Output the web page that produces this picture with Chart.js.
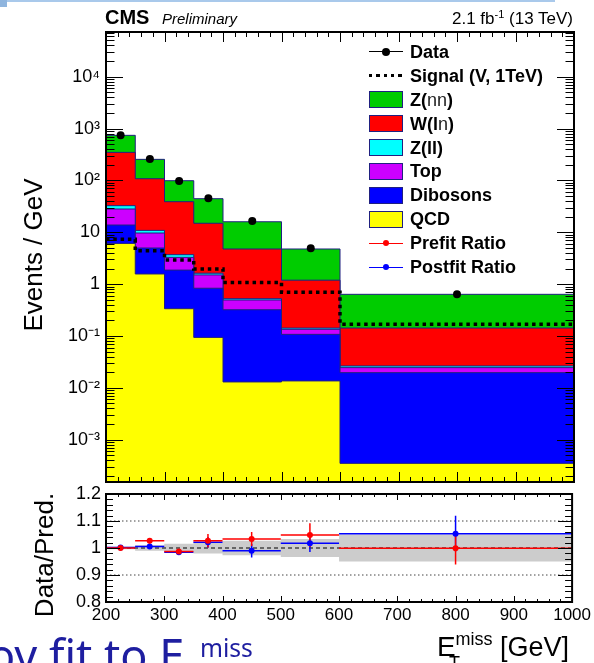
<!DOCTYPE html>
<html>
<head>
<meta charset="utf-8">
<title>MET spectrum</title>
<script src="https://cdn.jsdelivr.net/npm/chart.js@4.4.1/dist/chart.umd.min.js"></script>
<style>
  html, body { margin: 0; padding: 0; background: #fff; }
  body { position: relative; width: 594px; height: 663px; overflow: hidden;
         font-family: "Liberation Sans", Arial, Helvetica, sans-serif; color: #000; }
  canvas { position: absolute; left: 0; top: 0; }
  .t { position: absolute; white-space: nowrap; line-height: 1; }
  .rot { transform: translate(-50%, -50%) rotate(-90deg); }
  .row { position: absolute; left: 369px; width: 220px; height: 24px; }
  .mk { position: absolute; left: 0; top: 0; width: 34px; height: 24px; }
  .lab { position: absolute; left: 41px; top: 3px; font-weight: bold; font-size: 18px; line-height: 18px; white-space: nowrap; }
  .lab .n { font-weight: normal; color: #222; }
  .box { position: absolute; left: 0; top: 3.5px; width: 32px; height: 15px; border: 1px solid #202080; }
  .ln { position: absolute; left: 0; top: 11.5px; width: 34px; height: 1px; }
  .dot { position: absolute; border-radius: 50%; }
</style>
</head>
<body>
<div style="position:absolute;left:0;top:0;width:555px;height:2px;background:#a9c9eb"></div>
<div style="position:absolute;left:0;top:0;width:7px;height:7px;background:#8fb5de"></div>

<canvas id="mainChart" width="594" height="663"></canvas>
<canvas id="ratioChart" width="594" height="663"></canvas>

<div class="t" style="left:105px;top:7px;font-size:20px;font-weight:bold">CMS</div>
<div class="t" style="left:162px;top:11.3px;font-size:15px;font-style:italic">Preliminary</div>
<div class="t" style="right:21px;top:9.6px;font-size:17px">2.1 fb<span style="font-size:11px;position:relative;top:-6px">-1</span> (13 TeV)</div>

<div class="t rot" style="left:33px;top:255px;font-size:26px">Events / GeV</div>
<div class="t rot" style="left:44px;top:555px;font-size:26px">Data/Pred.</div>

<div class="t" style="left:437px;top:633.3px;font-size:28px">E</div>
<div class="t" style="left:449px;top:653.8px;font-size:18px">T</div>
<div class="t" style="left:455.5px;top:629.8px;font-size:18px">miss</div>
<div class="t" style="left:500px;top:634.1px;font-size:27px">[GeV]</div>

<div class="t" style="left:-12px;top:632px;font-size:45px;font-family:'Noto Sans',sans-serif;color:#1e1ea0">oy fit to E</div>
<div class="t" style="left:200px;top:636.2px;font-size:24.6px;font-family:'Noto Sans',sans-serif;color:#1e1ea0">miss</div>

<div id="legend"></div>

<script>
// bins in MET (GeV)
const binEdges = [200, 250, 300, 350, 400, 500, 600, 1000];
const binCenters = [225, 275, 325, 375, 450, 550, 800];

// background processes, events / GeV per bin
const qcdVals      = [6.1, 1.57, 0.336, 0.094, 0.013, 0.0136, 0.00035];
const dibosonVals  = [7.7, 3.41, 1.53, 0.74, 0.308, 0.094, 0.0193];
const topVals      = [14.3, 4.7, 1.42, 0.67, 0.173, 0.027, 0.0049];
const zllVals      = [4.5, 1.2, 0.41, 0.12, 0.03, 0.0076, 0.0019];
const wlnVals      = [315, 97, 35.2, 13.3, 4.24, 1.05, 0.116];
const znnVals      = [393, 147, 59.9, 29.5, 11.2, 3.57, 0.494];
const signalVals   = [7.3, 4.4, 2.92, 1.96, 1.07, 0.70, 0.168];
const dataVals     = [740, 258, 97, 45.3, 16.5, 4.9, 0.64];

// ratio panel
const prefitRatio  = [1.000, 1.027, 0.987, 1.027, 1.033, 1.048, 0.999];
const prefitErr    = [0.004, 0.01, 0.008, 0.025, 0.026, 0.044, 0.06];
const postfitRatio = [1.002, 1.006, 0.984, 1.021, 0.990, 1.018, 1.053];
const postfitErr   = [0.004, 0.008, 0.008, 0.02, 0.025, 0.033, 0.066];
const bandErr      = [0.005, 0.01, 0.016, 0.02, 0.027, 0.033, 0.05];
const refLevels    = [0.9, 1.0, 1.1];

// axes
const yMin = 1.53e-4, yMax = 7.28e4;
const yTickValues = [1e-3, 1e-2, 1e-1, 1, 10, 100, 1e3, 1e4];
const yTickLabels = ['10\u207B\u00B3', '10\u207B\u00B2', '10\u207B\u00B9', '1', '10', '10\u00B2', '10\u00B3', '10\u2074'];
const ratioTickValues = [0.8, 0.9, 1.0, 1.1, 1.2];
const ratioTickLabels = ['0.8', '0.9', '1', '1.1', '1.2'];
const xTickValues = [200, 300, 400, 500, 600, 700, 800, 900, 1000];
const xTickLabels = ['200', '300', '400', '500', '600', '700', '800', '900', '1000'];

const FONT = "'Liberation Sans', Arial, sans-serif";
const NAVY = '#202080';

function stepPoints(vals) {
  return binEdges.map((x, i) => ({x: x, y: vals[Math.min(i, vals.length - 1)]}));
}

function errPoints(vals, errs) {
  let pts = [];
  vals.forEach((v, i) => {
    pts.push({x: binEdges[i], y: v}, {x: binEdges[i + 1], y: v}, {x: binEdges[i + 1], y: null});
    pts.push({x: binCenters[i], y: v - errs[i]}, {x: binCenters[i], y: v + errs[i]}, {x: binCenters[i], y: null});
  });
  return pts;
}

function centerPoints(vals) {
  return binCenters.map((x, i) => ({x: x, y: vals[i]}));
}

// ROOT style frame with ticks pointing inward on all four sides
const rootFrame = {
  id: 'rootFrame',
  afterDatasetsDraw(chart, args, o) {
    const ctx = chart.ctx, a = chart.chartArea;
    const xs = chart.scales.x, ys = chart.scales.y;
    ctx.save();
    ctx.strokeStyle = '#000';
    ctx.lineWidth = 1;
    ctx.beginPath();
    let n = Math.round((xs.max - xs.min) / o.xMinor);
    for (let i = 0; i <= n; i++) {
      let v = xs.min + i * o.xMinor;
      let major = (i % o.xPer) === 0;
      let len = major ? o.xLen : o.xLen / 2;
      let px = Math.round(xs.getPixelForValue(v)) + 0.5;
      ctx.moveTo(px, a.bottom); ctx.lineTo(px, a.bottom - len);
      ctx.moveTo(px, a.top); ctx.lineTo(px, a.top + len);
    }
    let yt = [];
    if (o.log) {
      for (let d = Math.floor(Math.log10(ys.min)); d <= Math.ceil(Math.log10(ys.max)); d++) {
        for (let k = 1; k <= 9; k++) {
          let v = k * Math.pow(10, d);
          if (v >= ys.min && v <= ys.max) yt.push([v, k === 1]);
        }
      }
    } else {
      let m = Math.round((ys.max - ys.min) / o.yMinor);
      for (let i = 0; i <= m; i++) yt.push([ys.min + i * o.yMinor, i % o.yPer === 0]);
    }
    yt.forEach(([v, major]) => {
      let len = major ? o.yLen : o.yLen / 2;
      let py = Math.round(ys.getPixelForValue(v)) + 0.5;
      ctx.moveTo(a.left, py); ctx.lineTo(a.left + len, py);
      ctx.moveTo(a.right, py); ctx.lineTo(a.right - len, py);
    });
    ctx.stroke();
    ctx.lineWidth = 2;
    ctx.strokeRect(a.left, a.top, a.right - a.left, a.bottom - a.top);
    ctx.restore();
  }
};

function bkg(label, vals, color, order) {
  return {
    label: label, data: stepPoints(vals), stack: 'bkg', order: order,
    stepped: true, fill: 'start', backgroundColor: color,
    borderColor: NAVY, borderWidth: 1, pointRadius: 0
  };
}

new Chart(document.getElementById('mainChart'), {
  type: 'line',
  data: {
    datasets: [
      bkg('QCD', qcdVals, '#ffff00', 3),
      bkg('Dibosons', dibosonVals, '#0000ff', 4),
      bkg('Top', topVals, '#cc00ff', 5),
      bkg('Z(ll)', zllVals, '#00ffff', 6),
      bkg('W(ln)', wlnVals, '#ff0000', 7),
      bkg('Z(nn)', znnVals, '#00cc00', 8),
      {
        label: 'Signal (V, 1TeV)', data: stepPoints(signalVals), stack: 'sig', order: 1,
        stepped: true, fill: false, borderColor: '#000', borderWidth: 3.5,
        borderDash: [3.5, 3.8], pointRadius: 0
      },
      {
        label: 'Data', data: centerPoints(dataVals), stack: 'data', order: 0,
        showLine: false, pointRadius: 4, pointBackgroundColor: '#000', pointBorderWidth: 0
      }
    ]
  },
  options: {
    responsive: false, animation: false, events: [],
    layout: {padding: {left: 0, right: 20, top: 32, bottom: 181}},
    plugins: {
      legend: {display: false}, tooltip: {enabled: false},
      rootFrame: {xMinor: 20, xPer: 5, xLen: 10, log: true, yLen: 17}
    },
    scales: {
      x: {type: 'linear', min: 200, max: 1000, display: false},
      y: {
        type: 'logarithmic', min: yMin, max: yMax, stacked: true,
        afterFit: s => { s.width = 106; },
        afterBuildTicks: s => { s.ticks = yTickValues.map(v => ({value: v})); },
        grid: {display: false, drawTicks: false}, border: {display: false},
        ticks: {autoSkip: false, padding: 6, color: '#000', font: {family: FONT, size: 18},
                callback: (v, i) => yTickLabels[i]}
      }
    }
  },
  plugins: [rootFrame]
});

function band(sign) {
  return binEdges.map((x, i) => ({x: x, y: 1 + sign * bandErr[Math.min(i, bandErr.length - 1)]}));
}

function refLine(level, dash, color) {
  return {data: [{x: 200, y: level}, {x: 1000, y: level}], order: 6, fill: false,
          borderColor: color, borderWidth: 1, borderDash: dash, pointRadius: 0};
}

new Chart(document.getElementById('ratioChart'), {
  type: 'line',
  data: {
    datasets: [
      {data: band(1), stepped: true, fill: false, borderWidth: 0, pointRadius: 0, order: 10},
      {data: band(-1), stepped: true, fill: '-1', backgroundColor: '#cccccc', borderWidth: 0, pointRadius: 0, order: 10},
      refLine(refLevels[0], [1.5, 2.5], '#444'),
      refLine(refLevels[1], [4, 3], '#000'),
      refLine(refLevels[2], [1.5, 2.5], '#444'),
      {data: errPoints(postfitRatio, postfitErr), spanGaps: false, fill: false, borderColor: '#0000ff',
       borderWidth: 1.5, pointRadius: 0, order: 4},
      {data: errPoints(prefitRatio, prefitErr), spanGaps: false, fill: false, borderColor: '#ff0000',
       borderWidth: 1.5, pointRadius: 0, order: 3},
      {data: centerPoints(postfitRatio), showLine: false, pointRadius: 3, pointBackgroundColor: '#0000ff',
       pointBorderWidth: 0, order: 2},
      {data: centerPoints(prefitRatio), showLine: false, pointRadius: 3, pointBackgroundColor: '#ff0000',
       pointBorderWidth: 0, order: 1}
    ]
  },
  options: {
    responsive: false, animation: false, events: [],
    layout: {padding: {left: 0, right: 20, top: 494, bottom: 0}},
    plugins: {
      legend: {display: false}, tooltip: {enabled: false},
      rootFrame: {xMinor: 20, xPer: 5, xLen: 6, log: false, yMinor: 0.02, yPer: 5, yLen: 14}
    },
    scales: {
      x: {
        type: 'linear', min: 200, max: 1000,
        afterFit: s => { s.height = 61; },
        afterBuildTicks: s => { s.ticks = xTickValues.map(v => ({value: v})); },
        grid: {display: false, drawTicks: false}, border: {display: false},
        ticks: {autoSkip: false, maxRotation: 0, padding: 3, color: '#000', font: {family: FONT, size: 17},
                callback: (v, i) => xTickLabels[i]}
      },
      y: {
        type: 'linear', min: 0.8, max: 1.2,
        afterFit: s => { s.width = 106; },
        afterBuildTicks: s => { s.ticks = ratioTickValues.map(v => ({value: v})); },
        grid: {display: false, drawTicks: false}, border: {display: false},
        ticks: {autoSkip: false, padding: 5, color: '#000', font: {family: FONT, size: 18},
                callback: (v, i) => ratioTickLabels[i]}
      }
    }
  },
  plugins: [rootFrame]
});

// legend, drawn inside the upper right of the main pad
const legendRows = [
  {kind: 'data', html: 'Data'},
  {kind: 'signal', html: 'Signal (V, 1TeV)'},
  {kind: 'box', color: '#00cc00', html: 'Z(<span class="n">nn</span>)'},
  {kind: 'box', color: '#ff0000', html: 'W(l<span class="n">n</span>)'},
  {kind: 'box', color: '#00ffff', html: 'Z(ll)'},
  {kind: 'box', color: '#cc00ff', html: 'Top'},
  {kind: 'box', color: '#0000ff', html: 'Dibosons'},
  {kind: 'box', color: '#ffff00', html: 'QCD'},
  {kind: 'ratio', color: '#ff0000', html: 'Prefit Ratio'},
  {kind: 'ratio', color: '#0000ff', html: 'Postfit Ratio'}
];
const legend = document.getElementById('legend');
legendRows.forEach((r, i) => {
  let row = document.createElement('div');
  row.className = 'row';
  row.style.top = (51.7 + 23.95 * i - 12) + 'px';
  let mk = '';
  if (r.kind === 'data') {
    mk = '<div class="ln" style="background:#000"></div><div class="dot" style="left:13px;top:8px;width:8px;height:8px;background:#000"></div>';
  } else if (r.kind === 'signal') {
    mk = '<div class="ln" style="top:10.3px;height:3.5px;background:repeating-linear-gradient(to right,#000 0 3.5px,transparent 3.5px 7.3px)"></div>';
  } else if (r.kind === 'box') {
    mk = '<div class="box" style="background:' + r.color + '"></div>';
  } else {
    mk = '<div class="ln" style="background:' + r.color + '"></div><div class="dot" style="left:14px;top:9px;width:6px;height:6px;background:' + r.color + '"></div>';
  }
  row.innerHTML = '<div class="mk">' + mk + '</div><div class="lab">' + r.html + '</div>';
  legend.appendChild(row);
});
</script>
</body>
</html>
